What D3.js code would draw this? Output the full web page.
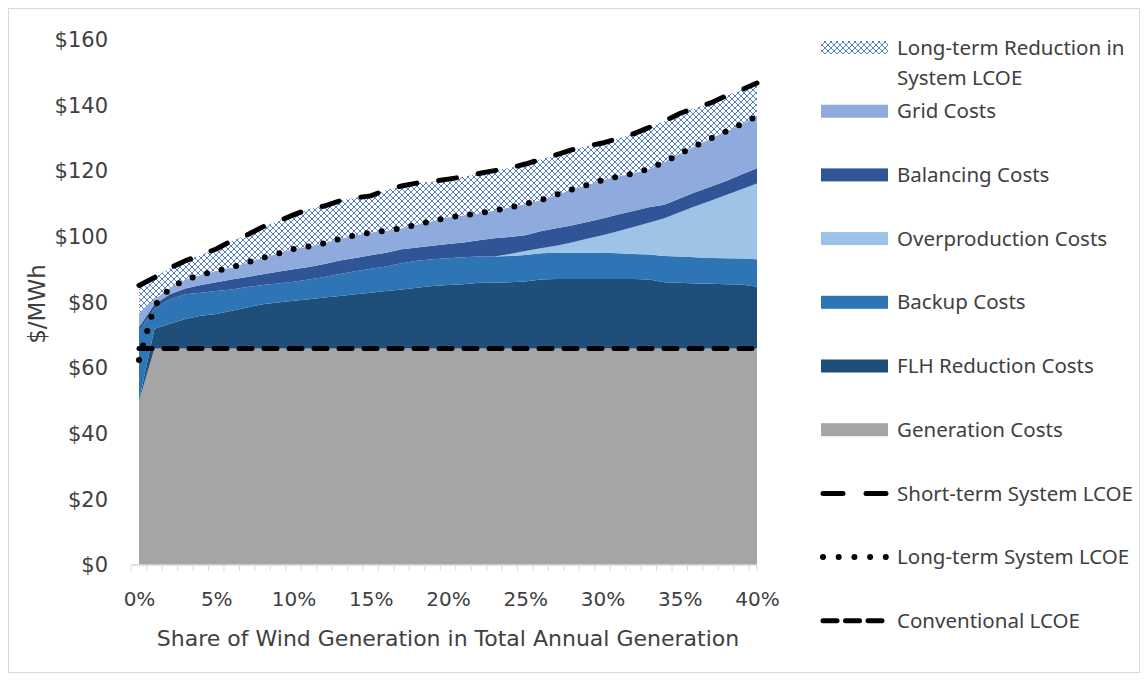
<!DOCTYPE html>
<html>
<head>
<meta charset="utf-8">
<script src="https://cdn.jsdelivr.net/npm/d3@7"></script>
<style>
  html, body { margin: 0; padding: 0; background: #fff; }
  svg text { font-family: "DejaVu Sans", "Noto Sans", sans-serif; fill: #404040; }
</style>
</head>
<body>
<svg id="chart" width="1147" height="680"></svg>
<script>
// ---------- data ----------
const share = d3.range(0, 41); // % wind share
const generationCosts = [50,66,66,66,66,66,66,66,66,66,66,66,66,66,66,66,66,66,66,66,66,66,66,66,66,66,66,66,66,66,66,66,66,66,66,66,66,66,66,66,66];
const flhReductionCosts = [0,6,7.5,9,10,10.5,11.5,12.5,13.5,14,14.5,15,15.5,16,16.5,17,17.5,18,18.5,19,19.3,19.6,20,20,20.2,20.4,21,21.2,21.2,21.2,21.2,21.2,21.2,21,20.2,20,19.8,19.7,19.6,19.5,18.8];
const backupCosts = [21.5,6,7.5,7.5,7,7,6.5,6.2,5.8,5.8,5.8,6,6.3,6.7,7,7.3,7.5,8,8.2,8.2,8.2,8.2,8,8,8,8.1,8,8,8,8,8,7.8,7.6,7.6,8,8,8,7.9,7.9,7.9,8.4];
const overproductionCosts = [0,0,0,0,0,0,0,0,0,0,0,0,0,0,0,0,0,0,0,0,0,0,0,0,0.6,1.2,1.5,2.1,3.1,4.2,5.3,6.7,8.2,9.7,11.5,13.5,15.5,17.4,19.3,21.1,23.1];
const balancingCosts = [1,1.5,1.5,1.8,2.3,2.7,3,3.1,3.3,3.6,3.8,3.8,3.9,4.1,4.1,4.1,4.2,4.2,4.1,4.1,4.3,4.5,5,5.6,5.2,4.8,5.2,5.3,5.2,5.1,5.1,5.1,4.9,4.7,4.1,4.2,4.3,4.3,4.2,4.5,4.6];
const gridCosts = [4,1.5,1.9,2.7,3.1,3.4,3.7,4.4,5,5.5,6.2,6.3,6.4,6.6,6.9,6.9,6.7,6.4,7,7.5,8.1,8.2,8.2,8.4,9,9.5,9.5,10.2,10.9,11.3,11.7,11.6,11.4,11.7,13,13.6,14.1,14.7,15.1,15.4,15.9];
const longTermReduction = [8.7,6.6,6.1,5.7,6.1,6.7,8.1,8.4,9.4,9.9,10.4,11.4,11.3,11.6,11.4,11.2,12.4,12.9,12.6,12.1,11.7,11.8,12.1,12.2,12,12.2,12.4,12.2,12.1,11.9,11.3,11.6,12.1,12.6,12.5,12.3,11.6,10.8,10.9,10.4,10.1];
const shortTermLCOE = [85.2,87.6,90.5,92.7,94.5,96.3,98.8,100.6,103,104.8,106.7,108.5,109.4,111,111.9,112.5,114.3,115.5,116.4,116.9,117.6,118.3,119.3,120.2,121,122.2,123.6,125,126.5,127.7,128.6,130,131.4,133.3,135.3,137.6,139.3,140.8,143,144.8,146.9];
const longTermLCOE = [62.5,79,84.4,87,88.4,89.6,90.7,92.2,93.6,94.9,96.3,97.1,98.1,99.4,100.5,101.3,101.9,102.6,103.8,104.8,105.9,106.5,107.2,108,109,110,111.2,112.8,114.4,115.8,117.3,118.4,119.3,120.7,122.8,125.3,127.7,130,132.1,134.4,136.8];
const conventionalLCOE = share.map(() => 66);
const yTicks = [0,20,40,60,80,100,120,140,160];
const xTickLabels = [0,5,10,15,20,25,30,35,40];

const areaNames = ["Generation Costs","FLH Reduction Costs","Backup Costs","Overproduction Costs","Balancing Costs","Grid Costs","Long-term Reduction in System LCOE"];
const areaArrays = [generationCosts, flhReductionCosts, backupCosts, overproductionCosts, balancingCosts, gridCosts, longTermReduction];
const areaColors = ["#A5A5A5","#1F4E79","#2E75B6","#9DC3E6","#2F5597","#8FAADC","url(#hatch)"];

// ---------- build ----------
const table = share.map((s, i) => {
  const row = {share: s};
  areaNames.forEach((n, k) => row[n] = areaArrays[k][i]);
  return row;
});

const svg = d3.select("#chart");
const defs = svg.append("defs");
const pat = defs.append("pattern").attr("id","hatch").attr("patternUnits","userSpaceOnUse")
  .attr("width",6).attr("height",6);
pat.append("rect").attr("width",6).attr("height",6).attr("fill","#ffffff");
pat.append("path").attr("d","M0,3 L3,0 L6,3 L3,6 Z").attr("fill","none").attr("stroke","#4472C4").attr("stroke-width",0.9);

// outer border
svg.append("rect").attr("x",8.5).attr("y",8.5).attr("width",1131).attr("height",664)
  .attr("fill","none").attr("stroke","#D9D9D9");

const x = d3.scaleLinear().domain([0,40]).range([139,757]);
const y = d3.scaleLinear().domain([0,160]).range([565,40]);

const stack = d3.stack().keys(areaNames);
const series = stack(table);
const area = d3.area().x(d => x(d.data.share)).y0(d => y(d[0])).y1(d => y(d[1]));

svg.append("g").selectAll("path").data(series).join("path")
  .attr("d", area).attr("fill", (d, i) => areaColors[i]);

// y axis labels
const yAxis = d3.axisLeft(y).tickValues(yTicks).tickSize(0).tickPadding(0)
  .tickFormat(d => "$" + d);
const yg = svg.append("g").attr("transform","translate(108,0)").call(yAxis);
yg.select(".domain").remove();
yg.selectAll("text").attr("font-size",21).style("font-family",'"DejaVu Sans", sans-serif').attr("fill","#404040");

// x axis
const xMinor = d3.range(-0.5, 40.5, 1).concat([40]);
const xg = svg.append("g").attr("transform","translate(0,565)");
xg.append("line").attr("x1",x(-0.5)).attr("x2",x(40)).attr("stroke","#D9D9D9").attr("stroke-width",1.5);
xg.selectAll("line.t").data(xMinor).join("line").attr("class","t")
  .attr("x1",d=>x(d)).attr("x2",d=>x(d)).attr("y1",0).attr("y2",6).attr("stroke","#D9D9D9");
const xAxis = d3.axisBottom(x).tickValues(xTickLabels).tickSize(0).tickPadding(0).tickFormat(d => d + "%");
const xl = svg.append("g").attr("transform","translate(0,592)").call(xAxis);
xl.select(".domain").remove();
xl.selectAll("text").attr("font-size",20).attr("dy","0.71em").style("font-family",'"DejaVu Sans", sans-serif').attr("fill","#404040");

// lines
const line = arr => d3.line().x((d,i) => x(share[i])).y(d => y(d))(arr);
svg.append("path").attr("d", line(conventionalLCOE)).attr("fill","none").attr("stroke","#000")
  .attr("stroke-width",5).attr("stroke-linecap","round").attr("stroke-dasharray","13,12");
svg.append("path").attr("d", line(longTermLCOE)).attr("fill","none").attr("stroke","#000")
  .attr("stroke-width",6).attr("stroke-linecap","round").attr("stroke-dasharray","0,15");
svg.append("path").attr("d", line(shortTermLCOE)).attr("fill","none").attr("stroke","#000")
  .attr("stroke-width",5).attr("stroke-linecap","round").attr("stroke-dasharray","18,22");

// axis titles
svg.append("text").attr("x",448).attr("y",646).attr("text-anchor","middle").attr("font-size",22)
  .text("Share of Wind Generation in Total Annual Generation");
svg.append("text").attr("transform","translate(45,304) rotate(-90)").attr("text-anchor","middle").attr("font-size",23)
  .text("$/MWh");

// legend
const legendItems = [
  {name:["Long-term Reduction in","System LCOE"], type:"area", fill:"url(#hatch)"},
  {name:["Grid Costs"], type:"area", fill:"#8FAADC"},
  {name:["Balancing Costs"], type:"area", fill:"#2F5597"},
  {name:["Overproduction Costs"], type:"area", fill:"#9DC3E6"},
  {name:["Backup Costs"], type:"area", fill:"#2E75B6"},
  {name:["FLH Reduction Costs"], type:"area", fill:"#1F4E79"},
  {name:["Generation Costs"], type:"area", fill:"#A5A5A5"},
  {name:["Short-term System LCOE"], type:"line"},
  {name:["Long-term System LCOE"], type:"line"},
  {name:["Conventional LCOE"], type:"line"}
];
const lg = svg.append("g");
legendItems.forEach((it, k) => {
  const cy = 47.5 + k * 63.7;
  const g = lg.append("g");
  if (it.type === "area") {
    g.append("rect").attr("x",821).attr("y",cy-6.5).attr("width",67).attr("height",13).attr("fill",it.fill);
  } else {
    const isShort = it.name[0].startsWith("Short"), isLong = it.name[0].startsWith("Long");
    g.append("line").attr("x1",823).attr("x2",886).attr("y1",cy).attr("y2",cy)
      .attr("stroke","#000").attr("stroke-width", isLong ? 6 : 5).attr("stroke-linecap","round")
      .attr("stroke-dasharray", isShort ? "20,23" : (isLong ? "0,15.7" : "14,8.5"));
  }
  it.name.forEach((t, j) => {
    g.append("text").attr("x",897).attr("y",cy + j*30).attr("dy","0.35em").attr("font-size",20.5)
      .style("font-family",'"Noto Sans", sans-serif').text(t);
  });
});
</script>
</body>
</html>
